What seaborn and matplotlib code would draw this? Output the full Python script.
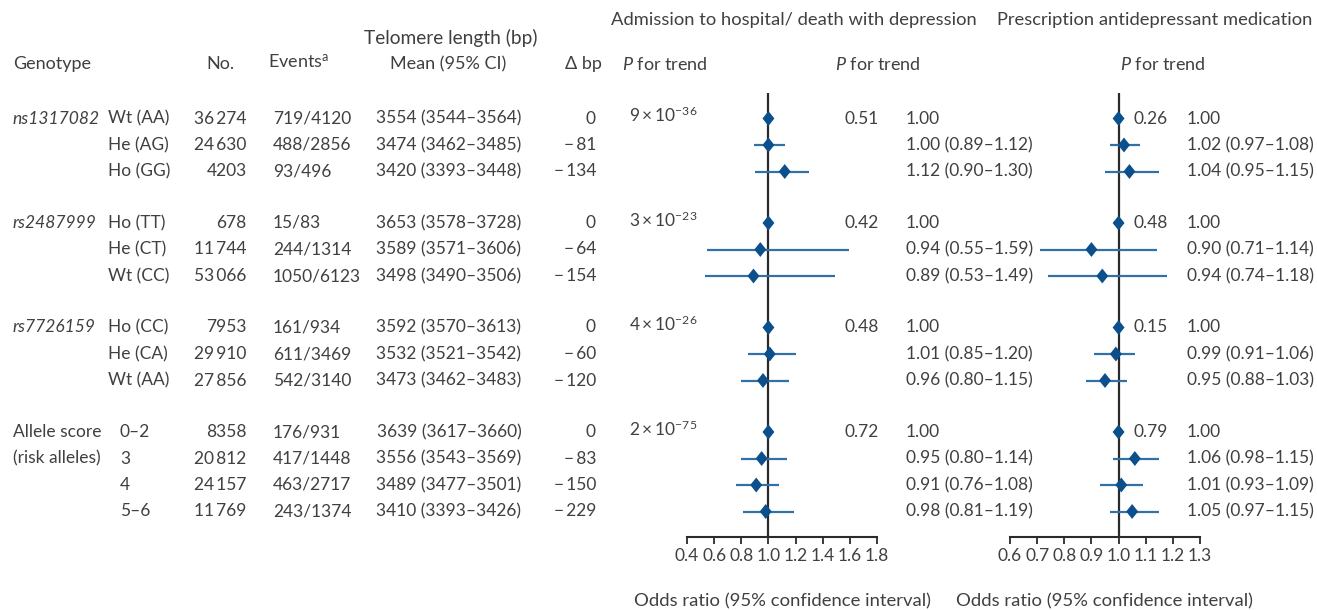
import numpy as np
import pandas as pd
import matplotlib
matplotlib.use("Agg")
import matplotlib.pyplot as plt
from matplotlib.path import Path
import seaborn as sns

# ---------------- data ----------------
group_labels = ["ns1317082", "rs2487999", "rs7726159", "Allele score"]
group_label2 = ["", "", "", "(risk alleles)"]
group_italic = [True, True, True, False]
row_group = [0, 0, 0, 1, 1, 1, 2, 2, 2, 3, 3, 3, 3]
genotypes = ["Wt (AA)", "He (AG)", "Ho (GG)",
             "Ho (TT)", "He (CT)", "Wt (CC)",
             "Ho (CC)", "He (CA)", "Wt (AA)",
             "0–2", "3", "4", "5–6"]
n_people = [36274, 24630, 4203, 678, 11744, 53066, 7953, 29910, 27856,
            8358, 20812, 24157, 11769]
events = ["719/4120", "488/2856", "93/496", "15/83", "244/1314", "1050/6123",
          "161/934", "611/3469", "542/3140", "176/931", "417/1448",
          "463/2717", "243/1374"]
tl_mean = [3554, 3474, 3420, 3653, 3589, 3498, 3592, 3532, 3473, 3639, 3556, 3489, 3410]
tl_lo = [3544, 3462, 3393, 3578, 3571, 3490, 3570, 3521, 3462, 3617, 3543, 3477, 3393]
tl_hi = [3564, 3485, 3448, 3728, 3606, 3506, 3613, 3542, 3483, 3660, 3569, 3501, 3426]
delta_bp = [0, -81, -134, 0, -64, -154, 0, -60, -120, 0, -83, -150, -229]
p_tl_mant = [9, 3, 4, 2]
p_tl_exp = [-36, -23, -26, -75]

nan = np.nan
adm_or = [1.00, 1.00, 1.12, 1.00, 0.94, 0.89, 1.00, 1.01, 0.96, 1.00, 0.95, 0.91, 0.98]
adm_lo = [nan, 0.89, 0.90, nan, 0.55, 0.53, nan, 0.85, 0.80, nan, 0.80, 0.76, 0.81]
adm_hi = [nan, 1.12, 1.30, nan, 1.59, 1.49, nan, 1.20, 1.15, nan, 1.14, 1.08, 1.19]
adm_p = ["0.51", "0.42", "0.48", "0.72"]

med_or = [1.00, 1.02, 1.04, 1.00, 0.90, 0.94, 1.00, 0.99, 0.95, 1.00, 1.06, 1.01, 1.05]
med_lo = [nan, 0.97, 0.95, nan, 0.71, 0.74, nan, 0.91, 0.88, nan, 0.98, 0.93, 0.97]
med_hi = [nan, 1.08, 1.15, nan, 1.14, 1.18, nan, 1.06, 1.03, nan, 1.15, 1.09, 1.15]
med_p = ["0.26", "0.48", "0.15", "0.79"]

adm_ticks = [0.4, 0.6, 0.8, 1.0, 1.2, 1.4, 1.6, 1.8]
med_ticks = [0.6, 0.7, 0.8, 0.9, 1.0, 1.1, 1.2, 1.3]

titles = ["Admission to hospital/ death with depression",
          "Prescription antidepressant medication"]
xlabel = "Odds ratio (95% confidence interval)"

# ---------------- style ----------------
sns.set_theme(style="white")
plt.rcParams["font.family"] = ["Lato", "DejaVu Sans"]
plt.rcParams["font.weight"] = "normal"
plt.rcParams["mathtext.fontset"] = "custom"
plt.rcParams["mathtext.rm"] = "Lato"
plt.rcParams["mathtext.it"] = "Lato:italic"
plt.rcParams["mathtext.default"] = "rm"

FS = 12.5        # numbers and short labels
FS_HEAD = 13.3   # long header texts
FS_TITLE = 13.2
TC = "#404040"
DIAM = "#0b4f8c"
LINE = "#3271a8"
REF = "#2a2a2a"

W, H = 1317, 610
fig = plt.figure(figsize=(W / 100, H / 100), dpi=100)
tax = fig.add_axes([0, 0, 1, 1])
tax.set_xlim(0, W)
tax.set_ylim(H, 0)
tax.axis("off")

# row positions (layout)
Y0, STEP, GAP = 118.5, 26.5, 25
ys = [Y0 + i * STEP + g * GAP for i, g in enumerate(row_group)]
first_row = [row_group.index(g) for g in range(len(group_labels))]


def t(x, y, s, ha="left", fs=FS, **kw):
    tax.text(x, y, s, ha=ha, va="center", fontsize=fs, color=TC, **kw)


def fmt_n(v):
    s = f"{v:d}"
    return s[:-3] + "\u2009" + s[-3:] if v >= 10000 else s


# headers
t(794, 20, titles[0], ha="center", fs=FS_TITLE)
t(1312, 20, titles[1], ha="right", fs=FS_TITLE)
t(451, 38, "Telomere length (bp)", ha="center", fs=13.8)
t(12.7, 64, "Genotype", fs=13)
t(220.5, 64, "No.", ha="center", fs=13)
t(268, 62, r"Events$^{\mathrm{a}}$", fs=13)
t(448.5, 64, "Mean (95% CI)", ha="center", fs=13)
t(602, 64, "Δ bp", ha="right", fs=13)
t(622, 64, r"$\mathit{P}$ for trend", fs=13)
t(835, 64, r"$\mathit{P}$ for trend", fs=13)
t(1120, 64, r"$\mathit{P}$ for trend", fs=13)

# left table
for g, r0 in enumerate(first_row):
    t(12.7, ys[r0], group_labels[g], style="italic" if group_italic[g] else "normal")
    if group_label2[g]:
        t(12.7, ys[r0 + 1], group_label2[g])
    t(629, ys[r0] - 3, rf"${p_tl_mant[g]}\times10^{{-{abs(p_tl_exp[g])}}}$")
    t(879, ys[r0], adm_p[g], ha="right")
    t(1134, ys[r0], med_p[g])

for i, y in enumerate(ys):
    gx = 120 if group_labels[row_group[i]] == "Allele score" else 108.3
    t(gx, y, genotypes[i])
    t(246.7, y, fmt_n(n_people[i]), ha="right")
    t(273, y, events[i])
    t(449, y, f"{tl_mean[i]} ({tl_lo[i]}–{tl_hi[i]})", ha="center")
    d = delta_bp[i]
    t(596, y, "0" if d == 0 else f"\u2212\u2009{abs(d)}", ha="right")


def or_text(o, lo, hi):
    return "1.00" if np.isnan(lo) else f"{o:.2f} ({lo:.2f}–{hi:.2f})"


for i, y in enumerate(ys):
    t(906, y, or_text(adm_or[i], adm_lo[i], adm_hi[i]))
    t(1187, y, or_text(med_or[i], med_lo[i], med_hi[i]))

# forest panels
diamond = Path([(-0.8, 0), (0, 1), (0.8, 0), (0, -1), (-0.8, 0)],
               [Path.MOVETO, Path.LINETO, Path.LINETO, Path.LINETO, Path.CLOSEPOLY])
AX_TOP, AX_BOT = 93, 537


def forest(x_left, or_, lo, hi, ticks):
    ax = fig.add_axes([x_left / W, (H - AX_BOT) / H, 190 / W, (AX_BOT - AX_TOP) / H])
    ax.patch.set_alpha(0)
    df = pd.DataFrame({"or": or_, "lo": lo, "hi": hi, "y": ys})
    ci = df.dropna()
    ax.hlines(ci["y"], ci["lo"], ci["hi"], color=LINE, lw=1.6, zorder=3)
    ax.axvline(1.0, color=REF, lw=1.6, zorder=2)
    sns.scatterplot(data=df, x="or", y="y", ax=ax, marker=diamond, s=115,
                    color=DIAM, edgecolor="none", linewidth=0, zorder=4,
                    legend=False, clip_on=False)
    ax.set_xlim(ticks[0], ticks[-1])
    ax.set_ylim(AX_BOT, AX_TOP)
    ax.set_xticks(ticks)
    ax.set_xticklabels([f"{v:.1f}" for v in ticks])
    ax.set_yticks([])
    ax.set_xlabel("")
    ax.set_ylabel("")
    for s in ["left", "right", "top"]:
        ax.spines[s].set_visible(False)
    ax.spines["bottom"].set_color(REF)
    ax.spines["bottom"].set_linewidth(1.5)
    ax.tick_params(axis="x", direction="out", length=5, width=1.3, color=REF,
                   labelcolor=TC, labelsize=FS, pad=3, bottom=True)
    t(x_left + 95, 601, xlabel, ha="center", fs=FS_HEAD)
    return ax


forest(687, adm_or, adm_lo, adm_hi, adm_ticks)
forest(1010, med_or, med_lo, med_hi, med_ticks)

fig.savefig("out.png", dpi=100)
